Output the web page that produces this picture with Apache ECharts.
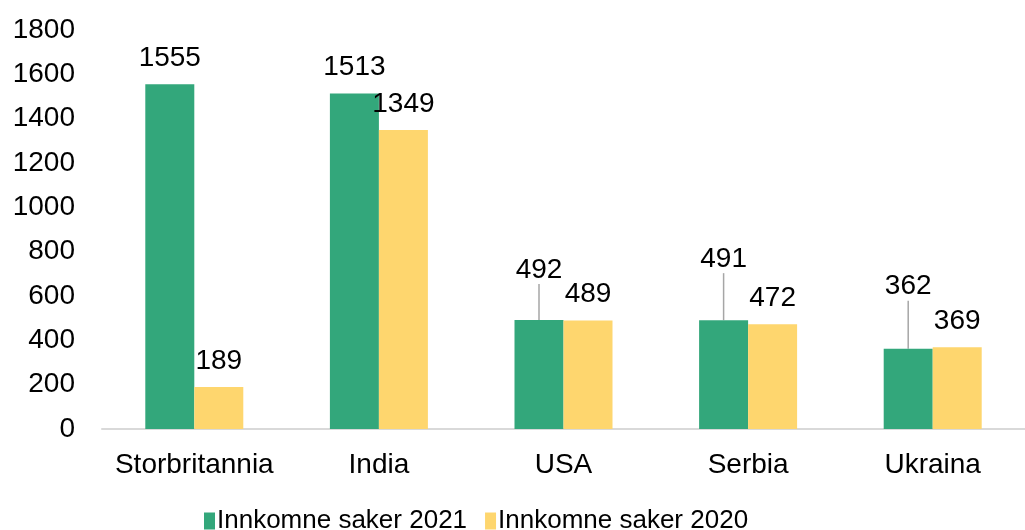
<!DOCTYPE html>
<html>
<head>
<meta charset="utf-8">
<script src="https://cdn.jsdelivr.net/npm/echarts@6/dist/echarts.min.js"></script>
<style>
  html, body { margin: 0; padding: 0; background: #fff; }
  #chart { width: 1025px; height: 530px; }
</style>
</head>
<body>
<div id="chart"></div>
<script>
const categories = ['Storbritannia', 'India', 'USA', 'Serbia', 'Ukraina'];
const saker2021 = [1555, 1513, 492, 491, 362];
const saker2020 = [189, 1349, 489, 472, 369];
const seriesNames = ['Innkomne saker 2021', 'Innkomne saker 2020'];
// labels that were pulled up in the original, with a leader line
const liftedLabels2021 = [0, 0, -24, -35, -36];

const colors = ['#33a77b', '#fed66e'];
const font = 'Liberation Sans, Arial, sans-serif';

const chart = echarts.init(document.getElementById('chart'));

// only the lifted labels get a leader line
const data2021 = saker2021.map(function (v, i) {
  return { value: v, labelLine: { show: liftedLabels2021[i] !== 0 } };
});

const option = {
  color: colors,
  animation: false,
  textStyle: { fontFamily: font },
  grid: {
    left: 102,
    right: 0,
    top: 30,
    bottom: 101
  },
  legend: {
    top: 503,
    left: 199,
    itemWidth: 11,
    itemHeight: 17,
    itemGap: 18,
    icon: 'rect',
    textStyle: {
      fontSize: 26,
      color: '#000',
      fontFamily: font,
      padding: [0, 0, 0, -3]
    },
    data: seriesNames
  },
  xAxis: {
    type: 'category',
    data: categories,
    axisLine: { lineStyle: { color: '#d9d9d9', width: 2 } },
    axisTick: { show: false },
    axisLabel: { fontSize: 28, color: '#000', margin: 22, fontFamily: font, interval: 0 }
  },
  yAxis: {
    type: 'value',
    min: 0,
    max: 1800,
    interval: 200,
    splitLine: { show: false },
    axisLine: { show: false },
    axisTick: { show: false },
    axisLabel: {
      fontSize: 28,
      color: '#000',
      margin: 27,
      fontFamily: font,
      formatter: function (v) { return String(v); }
    }
  },
  series: [
    {
      name: seriesNames[0],
      type: 'bar',
      barWidth: 49,
      barGap: 0,
      data: data2021,
      label: {
        show: true,
        position: 'top',
        distance: 12,
        fontSize: 28,
        color: '#000',
        fontFamily: font
      },
      labelLine: {
        show: true,
        lineStyle: { color: '#a6a6a6', width: 1.5 }
      },
      labelLayout: function (params) {
        const dy = liftedLabels2021[params.dataIndex];
        return dy ? { dy: dy } : {};
      }
    },
    {
      name: seriesNames[1],
      type: 'bar',
      barWidth: 49,
      barGap: 0,
      data: saker2020,
      label: {
        show: true,
        position: 'top',
        distance: 12,
        fontSize: 28,
        color: '#000',
        fontFamily: font
      }
    }
  ]
};

chart.setOption(option);
</script>
</body>
</html>
